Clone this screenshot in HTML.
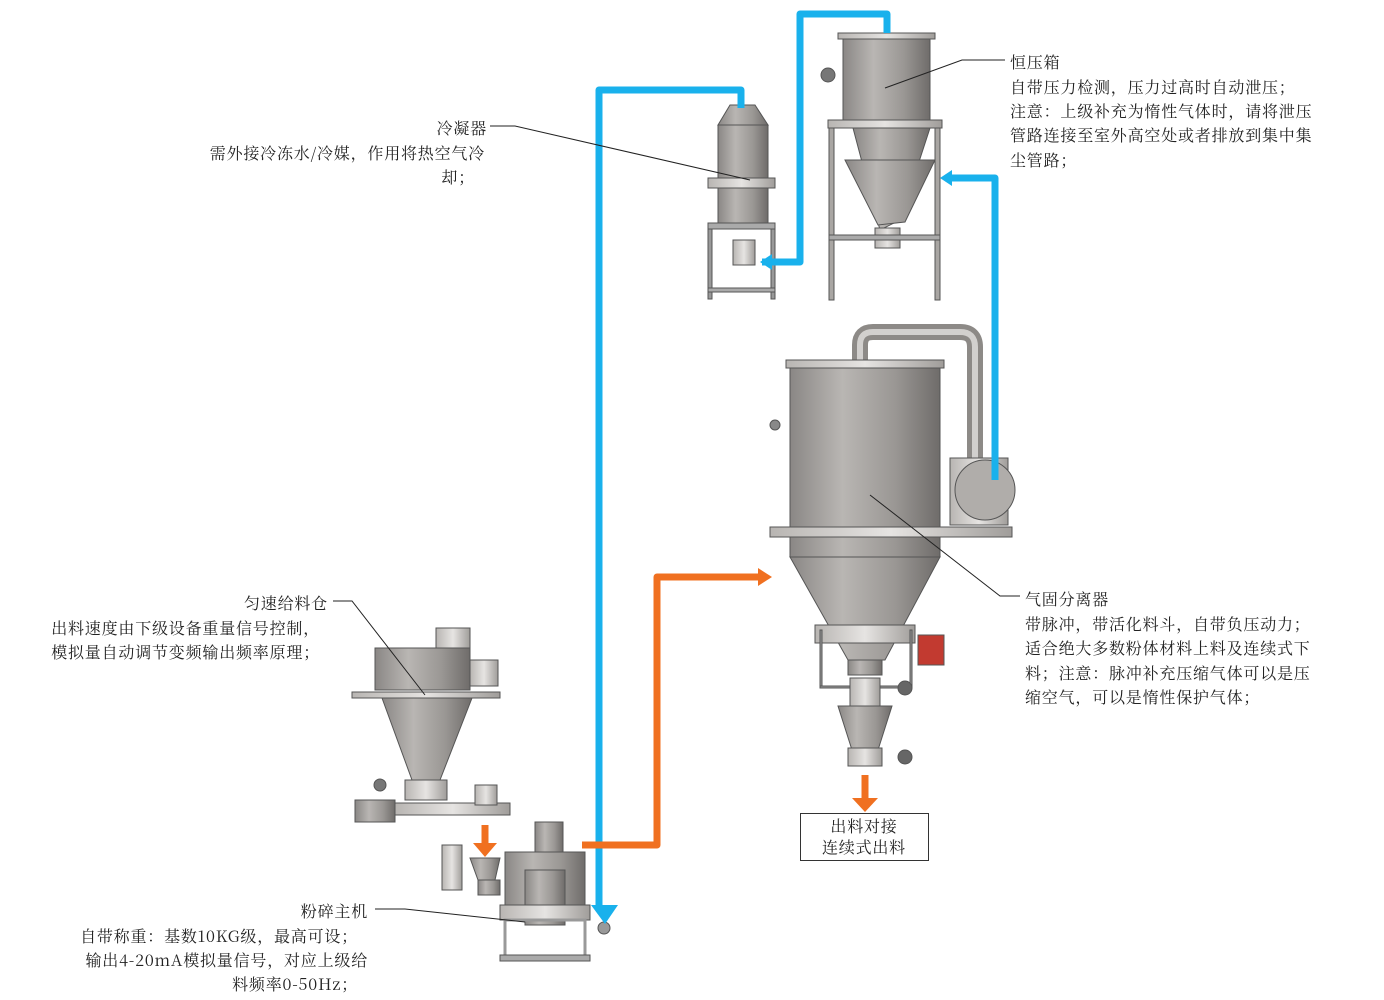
<!DOCTYPE html>
<html><head><meta charset="utf-8"><style>
html,body{margin:0;padding:0;background:#fff;width:1384px;height:1000px;overflow:hidden}
svg{display:block}
text{font-family:"Noto Serif CJK SC","Liberation Serif",serif;font-size:16px;letter-spacing:0.8px;fill:#222}
</style></head><body>
<svg width="1384" height="1000" viewBox="0 0 1384 1000" xmlns="http://www.w3.org/2000/svg">
<defs>
<linearGradient id="g" x1="0" x2="1" y1="0" y2="0">
<stop offset="0" stop-color="#8a8785"/><stop offset="0.35" stop-color="#b9b6b3"/><stop offset="0.7" stop-color="#9a9794"/><stop offset="1" stop-color="#6f6c6a"/></linearGradient>
<linearGradient id="g2" x1="0" x2="1" y1="0" y2="0">
<stop offset="0" stop-color="#b8b5b2"/><stop offset="0.5" stop-color="#e6e4e2"/><stop offset="1" stop-color="#a09d9a"/></linearGradient>
</defs>

<!-- Condenser -->
<g stroke="#555" stroke-width="1">
<polygon points="730,105 755,105 768,125 718,125" fill="url(#g)"/>
<rect x="718" y="125" width="50" height="55" fill="url(#g)"/>
<rect x="708" y="178" width="67" height="10" fill="url(#g2)"/>
<rect x="718" y="188" width="50" height="35" fill="url(#g)"/>
<rect x="708" y="223" width="67" height="6" fill="#aaa"/>
<rect x="708" y="229" width="4" height="70" fill="#999"/>
<rect x="771" y="229" width="4" height="70" fill="#999"/>
<rect x="708" y="288" width="67" height="4" fill="#aaa"/>
<rect x="733" y="240" width="22" height="25" fill="url(#g2)"/>
</g>

<!-- Constant pressure box -->
<g stroke="#555" stroke-width="1">
<rect x="843" y="35" width="87" height="85" fill="url(#g)"/>
<rect x="838" y="33" width="97" height="6" fill="url(#g2)"/>
<rect x="828" y="120" width="114" height="8" fill="url(#g2)"/>
<polygon points="853,128 930,128 900,220 880,230" fill="url(#g)"/>
<polygon points="845,160 935,160 905,222 878,225" fill="url(#g)"/>
<rect x="875" y="228" width="25" height="20" fill="url(#g2)"/>
<rect x="829" y="128" width="5" height="172" fill="#a9a6a3"/>
<rect x="935" y="128" width="5" height="172" fill="#a9a6a3"/>
<rect x="829" y="235" width="111" height="5" fill="#aaa"/>
<circle cx="828" cy="75" r="7" fill="#777"/>
</g>

<!-- Cyclone separator -->
<g stroke="#555" stroke-width="1">
<path d="M860,360 V345 Q860,332 873,332 H960 Q975,332 975,347 V485" fill="none" stroke="#8d8a87" stroke-width="16"/>
<path d="M860,360 V345 Q860,332 873,332 H960 Q975,332 975,347 V485" fill="none" stroke="#d2d0ce" stroke-width="6"/>
<rect x="790" y="365" width="150" height="162" fill="url(#g)"/>
<rect x="786" y="360" width="158" height="8" fill="url(#g2)"/>
<rect x="950" y="458" width="58" height="67" fill="url(#g2)"/>
<circle cx="985" cy="490" r="30" fill="#b0adaa"/>
<rect x="770" y="527" width="242" height="10" fill="url(#g2)"/>
<rect x="790" y="537" width="150" height="20" fill="url(#g)"/>
<polygon points="790,557 940,557 885,660 848,660" fill="url(#g)"/>
<rect x="815" y="625" width="100" height="18" fill="url(#g2)"/>
<rect x="848" y="660" width="34" height="15" fill="url(#g)"/>
<rect x="820" y="630" width="2" height="58" fill="#999"/>
<rect x="910" y="630" width="2" height="58" fill="#999"/>
<rect x="820" y="686" width="92" height="2" fill="#999"/>
<rect x="918" y="635" width="26" height="30" fill="#c23a30"/>
<rect x="850" y="678" width="30" height="28" fill="url(#g2)"/>
<polygon points="838,706 892,706 878,750 852,750" fill="url(#g)"/>
<rect x="848" y="748" width="34" height="18" fill="url(#g2)"/>
<circle cx="905" cy="688" r="7" fill="#666"/>
<circle cx="905" cy="757" r="7" fill="#666"/>
<circle cx="775" cy="425" r="5" fill="#888"/>
</g>

<!-- Feeder bin -->
<g stroke="#555" stroke-width="1">
<rect x="436" y="628" width="34" height="20" fill="url(#g2)"/>
<rect x="375" y="648" width="95" height="42" fill="url(#g)"/>
<rect x="470" y="660" width="28" height="26" fill="url(#g2)"/>
<rect x="352" y="692" width="148" height="6" fill="url(#g2)"/>
<polygon points="382,698 472,698 440,780 412,780" fill="url(#g)"/>
<rect x="405" y="780" width="42" height="20" fill="url(#g2)"/>
<rect x="355" y="800" width="40" height="22" fill="url(#g)"/>
<rect x="395" y="803" width="115" height="12" fill="url(#g2)"/>
<rect x="475" y="785" width="22" height="20" fill="url(#g2)"/>
<circle cx="380" cy="785" r="6" fill="#777"/>
</g>

<!-- Mill -->
<g stroke="#555" stroke-width="1">
<rect x="442" y="845" width="20" height="45" fill="url(#g2)"/>
<polygon points="470,858 500,858 495,880 478,880" fill="url(#g)"/>
<rect x="478" y="880" width="22" height="15" fill="url(#g)"/>
<rect x="535" y="822" width="28" height="30" fill="url(#g)"/>
<rect x="505" y="852" width="80" height="55" fill="url(#g)"/>
<rect x="525" y="870" width="40" height="55" fill="url(#g)"/>
<rect x="500" y="905" width="90" height="15" fill="url(#g2)"/>
<rect x="505" y="920" width="80" height="38" fill="none" stroke="#999" stroke-width="3"/>
<rect x="500" y="955" width="90" height="6" fill="#aaa"/>
<circle cx="604" cy="928" r="6" fill="#999"/>
</g>

<!-- Blue pipes -->
<g fill="none" stroke="#19b1ec" stroke-width="7" stroke-linejoin="round">
<path d="M741,108 V90 H599 V905"/>
<path d="M762,262 H800 V14 H887 V33"/>
<path d="M945,178 H995 V480"/>
</g>
<polygon points="591,905 618,905 605,924" fill="#19b1ec"/>
<polygon points="760,262 772,254 772,270" fill="#19b1ec"/>
<polygon points="940,178 952,170 952,186" fill="#19b1ec"/>

<!-- Orange pipes -->
<g fill="none" stroke="#f07020" stroke-width="7" stroke-linejoin="round">
<path d="M582,845 H657 V577 H760"/>
<path d="M485,825 V845"/>
<path d="M865,775 V800"/>
</g>
<polygon points="758,568 772,577 758,586" fill="#f07020"/>
<polygon points="473,843 497,843 485,857" fill="#f07020"/>
<polygon points="852,798 878,798 865,812" fill="#f07020"/>

<!-- Leader lines -->
<g stroke="#222" stroke-width="1" fill="none">
<path d="M1005,60 H962 L885,88"/>
<path d="M490,126 H515 L750,180"/>
<path d="M333,601 H352 L425,695"/>
<path d="M375,909 H405 L525,922"/>
<path d="M1020,596 H1000 L870,495"/>
</g>

<!-- Output box -->
<rect x="800.5" y="813.5" width="128" height="47" fill="#fff" stroke="#333"/>
<text x="864" y="832" text-anchor="middle" font-size="16">出料对接</text>
<text x="864" y="853" text-anchor="middle" font-size="16">连续式出料</text>

<!-- Labels -->
<text x="1010" y="68">恒压箱</text>
<text x="1010" y="93">自带压力检测，压力过高时自动泄压；</text>
<text x="1010" y="117">注意：上级补充为惰性气体时，请将泄压</text>
<text x="1010" y="141">管路连接至室外高空处或者排放到集中集</text>
<text x="1010" y="166">尘管路；</text>

<text x="487" y="134" text-anchor="end">冷凝器</text>
<text x="485" y="159" text-anchor="end">需外接冷冻水/冷媒，作用将热空气冷</text>
<text x="475" y="183" text-anchor="end">却；</text>

<text x="328" y="609" text-anchor="end">匀速给料仓</text>
<text x="320" y="634" text-anchor="end">出料速度由下级设备重量信号控制，</text>
<text x="320" y="658" text-anchor="end">模拟量自动调节变频输出频率原理；</text>

<text x="1025" y="605">气固分离器</text>
<text x="1025" y="630">带脉冲，带活化料斗，自带负压动力；</text>
<text x="1025" y="654">适合绝大多数粉体材料上料及连续式下</text>
<text x="1025" y="679">料；注意：脉冲补充压缩气体可以是压</text>
<text x="1025" y="703">缩空气，可以是惰性保护气体；</text>

<text x="368" y="917" text-anchor="end">粉碎主机</text>
<text x="358" y="942" text-anchor="end">自带称重：基数10KG级，最高可设；</text>
<text x="368" y="966" text-anchor="end">输出4-20mA模拟量信号，对应上级给</text>
<text x="358" y="990" text-anchor="end">料频率0-50Hz；</text>
</svg>
</body></html>
